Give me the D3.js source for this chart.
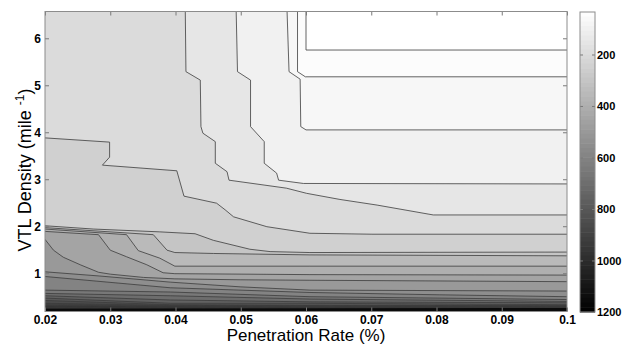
<!DOCTYPE html>
<html>
<head>
<meta charset="utf-8">
<script src="https://cdn.jsdelivr.net/npm/d3@7"></script>
<style>
  body { margin: 0; background: #fff; }
  text { font-family: "Liberation Sans", Arial, sans-serif; }
  .tick text { font-weight: bold; font-size: 12px; fill: #000; }
  .cbar .tick text { font-size: 11px; }
</style>
</head>
<body>
<svg id="chart" width="623" height="345"></svg>
<script>
// contour levels (z) and colour limits of the colorbar
const levels = [50, 70, 100, 150, 200, 250, 300, 350, 400, 450, 500, 550, 600,
  650, 700, 750, 800, 850, 900, 950, 1000, 1050, 1100, 1150];
const zMin = 35, zMax = 1200;

// isolines, [penetration rate, VTL density]
const c50 = [[0.0600, 6.57], [0.0600, 5.75], [0.1, 5.75]];
const c70 = [[0.0587, 6.57], [0.0587, 5.29], [0.0599, 5.18], [0.1, 5.18]];
const c100 = [[0.0571, 6.57], [0.0574, 5.29], [0.0591, 5.13], [0.0592, 4.12], [0.0600, 4.05], [0.1, 4.05]];
const c150 = [[0.0493, 6.57], [0.0495, 5.29], [0.0515, 5.11], [0.0515, 4.12], [0.0536, 3.80], [0.0536, 3.34],
  [0.0555, 3.13], [0.0558, 2.98], [0.0596, 2.91], [0.1, 2.90]];
const c200 = [[0.0415, 6.57], [0.0416, 5.29], [0.0438, 5.11], [0.0439, 4.12], [0.0442, 3.98], [0.0461, 3.80],
  [0.0461, 3.34], [0.0479, 3.16], [0.0482, 2.98], [0.0570, 2.81], [0.0601, 2.70], [0.0652, 2.57],
  [0.0709, 2.45], [0.0795, 2.24], [0.1, 2.24]];
const c250 = [[0.02, 3.88], [0.0299, 3.79], [0.0299, 3.47], [0.0288, 3.30], [0.0402, 3.18], [0.0413, 2.64],
  [0.0463, 2.49], [0.0476, 2.35], [0.0489, 2.20], [0.0540, 1.99], [0.0606, 1.85], [0.0701, 1.83], [0.1, 1.83]];
const c300 = [[0.02, 2.01], [0.0274, 1.94], [0.0376, 1.88], [0.0430, 1.84], [0.0458, 1.70], [0.0514, 1.51],
  [0.0545, 1.46], [0.0606, 1.44], [0.1, 1.45]];
const c350 = [[0.02, 1.97], [0.0366, 1.82], [0.0387, 1.49], [0.0399, 1.44], [0.0458, 1.42], [0.0606, 1.39], [0.1, 1.37]];
const c400 = [[0.02, 1.94], [0.0325, 1.82], [0.0343, 1.48], [0.0376, 1.32], [0.0399, 1.15], [0.0606, 1.15], [0.1, 1.15]];
const c450 = [[0.02, 1.89], [0.0282, 1.82], [0.0300, 1.49], [0.0325, 1.35], [0.0356, 1.18], [0.0381, 1.01],
  [0.0399, 0.99], [0.0606, 0.97], [0.1, 0.96]];
const c500 = [[0.02, 1.72], [0.0213, 1.49], [0.0228, 1.34], [0.0254, 1.18], [0.0282, 1.02], [0.0300, 0.98],
  [0.0351, 0.91], [0.0399, 0.88], [0.0499, 0.86], [0.0606, 0.85], [0.1, 0.82]];
const c550 = [[0.02, 1.03], [0.0284, 0.94], [0.0392, 0.81], [0.0499, 0.71], [0.0606, 0.64], [0.1, 0.62]];
const c600 = [[0.02, 0.93], [0.0392, 0.69], [0.0606, 0.59], [0.0805, 0.54], [0.1, 0.50]];
const c650 = [[0.02, 0.64], [0.0392, 0.60], [0.0606, 0.50], [0.1, 0.44]];
const c700 = [[0.02, 0.57], [0.0392, 0.52], [0.0606, 0.45], [0.1, 0.40]];
const c750 = [[0.02, 0.52], [0.0392, 0.43], [0.0606, 0.39], [0.1, 0.37]];
const c800 = [[0.02, 0.47], [0.0392, 0.36], [0.0606, 0.36], [0.1, 0.33]];
const c850 = [[0.02, 0.42], [0.0392, 0.33], [0.0606, 0.32], [0.1, 0.31]];
const c900 = [[0.02, 0.36], [0.0392, 0.315], [0.0606, 0.305], [0.1, 0.30]];
const c950 = [[0.02, 0.32], [0.0392, 0.30], [0.1, 0.296]];
const c1000 = [[0.02, 0.30], [0.1, 0.29]];
const c1050 = [[0.02, 0.285], [0.1, 0.284]];
const c1100 = [[0.02, 0.27], [0.1, 0.278]];
const c1150 = [[0.02, 0.255], [0.1, 0.272]];

const isolines = [c50, c70, c100, c150, c200, c250, c300, c350, c400, c450, c500, c550, c600,
  c650, c700, c750, c800, c850, c900, c950, c1000, c1050, c1100, c1150];

const xTicks = [0.02, 0.03, 0.04, 0.05, 0.06, 0.07, 0.08, 0.09, 0.1];
const yTicks = [1, 2, 3, 4, 5, 6];
const cbTicks = [200, 400, 600, 800, 1000, 1200];

const xDom = [0.02, 0.1], yDom = [0.185, 6.57];
const plot = { left: 45, right: 567, top: 11.5, bottom: 311.5 };
const cbar = { left: 580, right: 595, top: 12, bottom: 312 };

const svg = d3.select('#chart');

const x = d3.scaleLinear().domain(xDom).range([plot.left, plot.right]);
const y = d3.scaleLinear().domain(yDom).range([plot.bottom, plot.top]);
const gray = d3.scaleLinear().domain([zMin, zMax]).range(['#ffffff', '#000000']);

svg.append('clipPath').attr('id', 'clip')
  .append('rect')
  .attr('x', plot.left).attr('y', plot.top)
  .attr('width', plot.right - plot.left).attr('height', plot.bottom - plot.top);

const g = svg.append('g').attr('clip-path', 'url(#clip)');

g.append('rect')
  .attr('x', plot.left).attr('y', plot.top)
  .attr('width', plot.right - plot.left).attr('height', plot.bottom - plot.top)
  .attr('fill', gray(zMin));

// region z >= level lies below / left of its isoline
const region = pts => {
  const poly = pts[0][1] >= yDom[1] - 1e-6 ? [[xDom[0], yDom[1]], ...pts] : pts.slice();
  poly.push([xDom[1], yDom[0]], [xDom[0], yDom[0]]);
  return poly;
};

const line = d3.line().x(d => x(d[0])).y(d => y(d[1]));

g.append('g')
  .selectAll('path')
  .data(isolines)
  .join('path')
  .attr('fill', (d, i) => gray(levels[i]))
  .attr('d', d => line(region(d)) + 'Z');

g.append('g')
  .attr('fill', 'none')
  .attr('stroke', '#3c3c3c')
  .attr('stroke-width', 0.8)
  .attr('stroke-linejoin', 'round')
  .selectAll('path')
  .data(isolines)
  .join('path')
  .attr('d', line);

// axes with inward ticks
const tickColor = '#7a7a7a';
const styleAxis = sel => {
  sel.select('.domain').remove();
  sel.selectAll('.tick line').attr('stroke', tickColor);
};

svg.append('g')
  .attr('transform', `translate(0,${plot.bottom})`)
  .call(d3.axisBottom(x).tickValues(xTicks).tickFormat(d3.format('.2~f')).tickSize(-4).tickPadding(4))
  .call(styleAxis);

svg.append('g')
  .attr('transform', `translate(0,${plot.top})`)
  .call(d3.axisTop(x).tickValues(xTicks).tickFormat('').tickSize(-4))
  .call(styleAxis);

svg.append('g')
  .attr('transform', `translate(${plot.left},0)`)
  .call(d3.axisLeft(y).tickValues(yTicks).tickFormat(d3.format('d')).tickSize(-4).tickPadding(4))
  .call(styleAxis);

svg.append('g')
  .attr('transform', `translate(${plot.right},0)`)
  .call(d3.axisRight(y).tickValues(yTicks).tickFormat('').tickSize(-4))
  .call(styleAxis);

svg.append('rect')
  .attr('x', plot.left).attr('y', plot.top)
  .attr('width', plot.right - plot.left).attr('height', plot.bottom - plot.top)
  .attr('fill', 'none').attr('stroke', '#8c8c8c').attr('stroke-width', 1);

// axis titles
svg.append('text')
  .attr('x', (plot.left + plot.right) / 2).attr('y', 340.5)
  .attr('text-anchor', 'middle')
  .attr('font-size', 17)
  .text('Penetration Rate (%)');

const yl = svg.append('text')
  .attr('transform', 'translate(31,170) rotate(-90)')
  .attr('text-anchor', 'middle')
  .attr('font-size', 18);
yl.append('tspan').text('VTL Density (mile ');
yl.append('tspan').attr('dy', -7).attr('font-size', 12).text('-1');
yl.append('tspan').attr('dy', 7).text(')');

// colorbar
const cb = d3.scaleLinear().domain([zMin, zMax]).range([cbar.top, cbar.bottom]);
const stepH = (zMax - zMin) / 64;
const steps = d3.range(64).map(i => zMin + i * stepH);

svg.append('g')
  .selectAll('rect')
  .data(steps)
  .join('rect')
  .attr('x', cbar.left)
  .attr('width', cbar.right - cbar.left)
  .attr('y', d => cb(d))
  .attr('height', d => cb(d + stepH) - cb(d) + 0.5)
  .attr('fill', d => gray(d + stepH / 2));

svg.append('g')
  .attr('class', 'cbar')
  .attr('transform', `translate(${cbar.right},0)`)
  .call(d3.axisRight(cb).tickValues(cbTicks).tickFormat(d3.format('d')).tickSize(-3).tickPadding(2))
  .call(styleAxis)
  .call(s => s.selectAll('.tick text').attr('x', 2));

svg.append('g')
  .attr('transform', `translate(${cbar.left},0)`)
  .call(d3.axisLeft(cb).tickValues(cbTicks).tickFormat('').tickSize(-3))
  .call(styleAxis);

svg.append('rect')
  .attr('x', cbar.left).attr('y', cbar.top)
  .attr('width', cbar.right - cbar.left).attr('height', cbar.bottom - cbar.top)
  .attr('fill', 'none').attr('stroke', '#8c8c8c').attr('stroke-width', 1);
</script>
</body>
</html>
